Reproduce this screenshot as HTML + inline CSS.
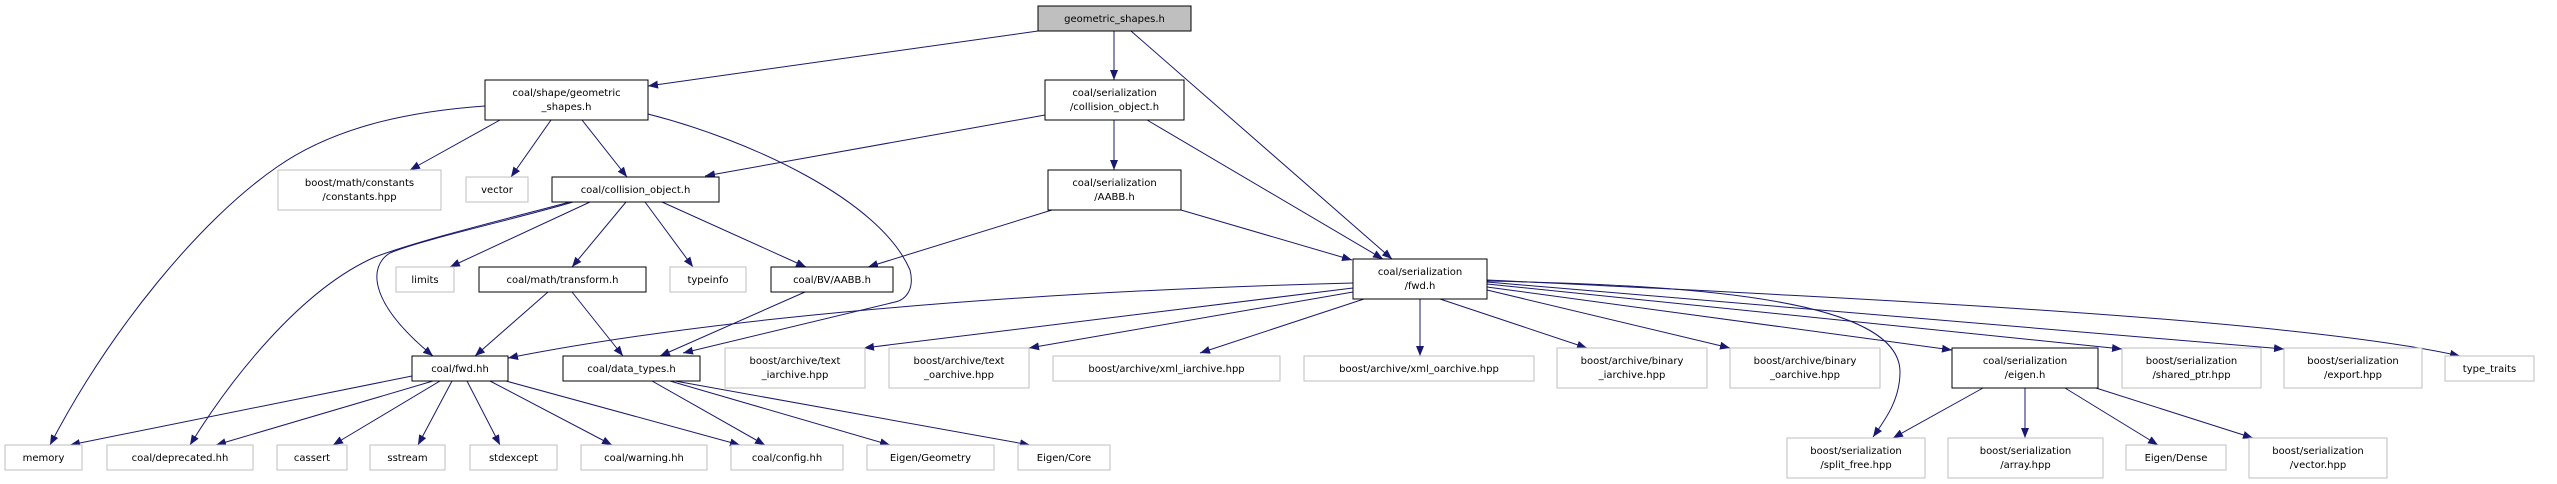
<!DOCTYPE html>
<html><head><meta charset="utf-8"><style>
html,body{margin:0;padding:0;background:#fff;width:2557px;height:484px;overflow:hidden}
text{font-family:"DejaVu Sans","Liberation Sans",sans-serif;font-size:10px;fill:#000;text-anchor:middle}
.e{fill:none;stroke:#191970;stroke-width:1}
.g{fill:#fff;stroke:#bfbfbf}
.b{fill:#fff;stroke:#000}
</style></head><body>
<svg width="2557" height="484" viewBox="0 0 2557 484" xmlns="http://www.w3.org/2000/svg">
<defs><marker id="a" markerUnits="userSpaceOnUse" markerWidth="11" markerHeight="8" refX="10" refY="4" orient="auto"><path d="M0,0 L10,4 L0,8 Z" fill="#191970"/></marker></defs>
<g marker-end="url(#a)">
<path class="e" d="M1038,31 L648,86"/>
<path class="e" d="M1114,31 L1114,80"/>
<path class="e" d="M1131,31 L1392,259"/>
<path class="e" d="M485,106 C400,112 330,130 277,167 C200,220 110,330 50,445"/>
<path class="e" d="M500,120 L410,170"/>
<path class="e" d="M551,120 L511,177"/>
<path class="e" d="M582,120 L627,177"/>
<path class="e" d="M648,114 C750,140 880,200 910,270 C915,290 905,300 895,302 L683,353"/>
<path class="e" d="M1045,115 L705,176"/>
<path class="e" d="M1114,120 L1114,170"/>
<path class="e" d="M1147,120 L1383,259"/>
<path class="e" d="M1052,210 L868,267"/>
<path class="e" d="M1181,210 L1352,260"/>
<path class="e" d="M573,202 C520,218 420,240 390,253 C370,265 365,300 433,356"/>
<path class="e" d="M570,202 C510,218 420,240 375,257 C300,290 230,380 190,445"/>
<path class="e" d="M590,202 L450,267"/>
<path class="e" d="M626,202 L572,267"/>
<path class="e" d="M645,202 L693,267"/>
<path class="e" d="M662,202 L806,267"/>
<path class="e" d="M548,292 L475,356"/>
<path class="e" d="M572,292 L623,356"/>
<path class="e" d="M805,292 L660,356"/>
<path class="e" d="M1353,283 C1000,292 700,320 508,358"/>
<path class="e" d="M1353,288 L864,348"/>
<path class="e" d="M1353,292 L1029,348"/>
<path class="e" d="M1364,299 L1200,353"/>
<path class="e" d="M1420,299 L1420,356"/>
<path class="e" d="M1440,299 L1587,348"/>
<path class="e" d="M1487,290 L1730,348"/>
<path class="e" d="M1487,287 L1952,350"/>
<path class="e" d="M1487,284 L2122,349"/>
<path class="e" d="M1487,282 L2284,349"/>
<path class="e" d="M1487,280 C1900,300 2300,320 2460,356"/>
<path class="e" d="M1487,281 C1700,285 1900,300 1900,372 C1900,400 1885,420 1873,437"/>
<path class="e" d="M1983,388 L1893,438"/>
<path class="e" d="M2025,388 L2025,438"/>
<path class="e" d="M2065,388 L2158,445"/>
<path class="e" d="M2096,388 L2253,438"/>
<path class="e" d="M412,376 L70,445"/>
<path class="e" d="M433,381 L216,445"/>
<path class="e" d="M440,381 L333,445"/>
<path class="e" d="M452,381 L418,445"/>
<path class="e" d="M467,381 L500,445"/>
<path class="e" d="M490,381 L612,445"/>
<path class="e" d="M506,381 L740,445"/>
<path class="e" d="M652,381 L765,445"/>
<path class="e" d="M670,381 L890,445"/>
<path class="e" d="M675,381 L1030,445"/>
</g>
<rect x="1038" y="6" width="153" height="25" fill="#bfbfbf" stroke="#000"/><text x="1114.5" y="22">geometric_shapes.h</text>
<rect class="b" x="485" y="80" width="163" height="40"/><text x="566.5" y="96">coal/shape/geometric</text><text x="566.5" y="110">_shapes.h</text>
<rect class="b" x="1045" y="80" width="139" height="40"/><text x="1114.5" y="96">coal/serialization</text><text x="1114.5" y="110">/collision_object.h</text>
<rect class="b" x="1048" y="170" width="133" height="40"/><text x="1114.5" y="186">coal/serialization</text><text x="1114.5" y="200">/AABB.h</text>
<rect class="g" x="278" y="170" width="163" height="40"/><text x="359.5" y="186">boost/math/constants</text><text x="359.5" y="200">/constants.hpp</text>
<rect class="g" x="466" y="177" width="62" height="25"/><text x="497" y="193">vector</text>
<rect class="b" x="552" y="177" width="167" height="25"/><text x="635.5" y="193">coal/collision_object.h</text>
<rect class="g" x="396" y="267" width="58" height="25"/><text x="425" y="283">limits</text>
<rect class="b" x="479" y="267" width="167" height="25"/><text x="562.5" y="283">coal/math/transform.h</text>
<rect class="g" x="670" y="267" width="76" height="25"/><text x="708" y="283">typeinfo</text>
<rect class="b" x="771" y="267" width="122" height="25"/><text x="832" y="283">coal/BV/AABB.h</text>
<rect class="b" x="1353" y="259" width="134" height="40"/><text x="1420" y="275">coal/serialization</text><text x="1420" y="289">/fwd.h</text>
<rect class="b" x="412" y="356" width="96" height="25"/><text x="460" y="372">coal/fwd.hh</text>
<rect class="b" x="563" y="356" width="137" height="25"/><text x="631.5" y="372">coal/data_types.h</text>
<rect class="g" x="725" y="348" width="140" height="40"/><text x="795" y="364">boost/archive/text</text><text x="795" y="378">_iarchive.hpp</text>
<rect class="g" x="889" y="348" width="140" height="40"/><text x="959" y="364">boost/archive/text</text><text x="959" y="378">_oarchive.hpp</text>
<rect class="g" x="1053" y="356" width="227" height="25"/><text x="1166.5" y="372">boost/archive/xml_iarchive.hpp</text>
<rect class="g" x="1304" y="356" width="230" height="25"/><text x="1419" y="372">boost/archive/xml_oarchive.hpp</text>
<rect class="g" x="1557" y="348" width="150" height="40"/><text x="1632" y="364">boost/archive/binary</text><text x="1632" y="378">_iarchive.hpp</text>
<rect class="g" x="1730" y="348" width="150" height="40"/><text x="1805" y="364">boost/archive/binary</text><text x="1805" y="378">_oarchive.hpp</text>
<rect class="b" x="1952" y="348" width="146" height="40"/><text x="2025" y="364">coal/serialization</text><text x="2025" y="378">/eigen.h</text>
<rect class="g" x="2122" y="348" width="139" height="40"/><text x="2191.5" y="364">boost/serialization</text><text x="2191.5" y="378">/shared_ptr.hpp</text>
<rect class="g" x="2284" y="348" width="138" height="40"/><text x="2353" y="364">boost/serialization</text><text x="2353" y="378">/export.hpp</text>
<rect class="g" x="2445" y="356" width="89" height="25"/><text x="2489.5" y="372">type_traits</text>
<rect class="g" x="5" y="445" width="77" height="25"/><text x="43.5" y="461">memory</text>
<rect class="g" x="107" y="445" width="146" height="25"/><text x="180" y="461">coal/deprecated.hh</text>
<rect class="g" x="277" y="445" width="70" height="25"/><text x="312" y="461">cassert</text>
<rect class="g" x="370" y="445" width="75" height="25"/><text x="407.5" y="461">sstream</text>
<rect class="g" x="470" y="445" width="87" height="25"/><text x="513.5" y="461">stdexcept</text>
<rect class="g" x="581" y="445" width="126" height="25"/><text x="644" y="461">coal/warning.hh</text>
<rect class="g" x="731" y="445" width="112" height="25"/><text x="787" y="461">coal/config.hh</text>
<rect class="g" x="867" y="445" width="127" height="25"/><text x="930.5" y="461">Eigen/Geometry</text>
<rect class="g" x="1018" y="445" width="92" height="25"/><text x="1064" y="461">Eigen/Core</text>
<rect class="g" x="1787" y="438" width="138" height="40"/><text x="1856" y="454">boost/serialization</text><text x="1856" y="468">/split_free.hpp</text>
<rect class="g" x="1948" y="438" width="155" height="40"/><text x="2025.5" y="454">boost/serialization</text><text x="2025.5" y="468">/array.hpp</text>
<rect class="g" x="2126" y="445" width="100" height="25"/><text x="2176" y="461">Eigen/Dense</text>
<rect class="g" x="2249" y="438" width="138" height="40"/><text x="2318" y="454">boost/serialization</text><text x="2318" y="468">/vector.hpp</text>
</svg>
</body></html>
